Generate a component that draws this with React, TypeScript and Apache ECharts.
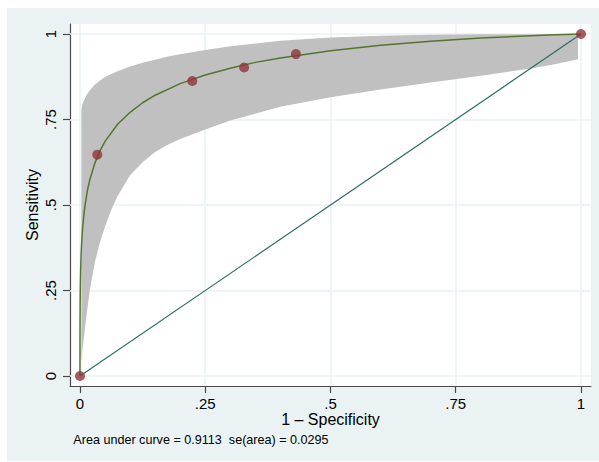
import React, { useEffect, useRef } from "react";
import * as echarts from "echarts";

// Tick values and labels (both axes)
const tickValues = [0, 0.25, 0.5, 0.75, 1];
const tickLabels = ["0", ".25", ".5", ".75", "1"];

// Empirical ROC points (1 - specificity, sensitivity)
const pointFpr = [0, 0.0345, 0.2241, 0.3276, 0.431, 1];
const pointTpr = [0, 0.6471, 0.8627, 0.902, 0.9412, 1];

// Fitted ROC curve
const curveFpr = [0, 0.00001, 0.0001, 0.0005, 0.001, 0.002, 0.003, 0.005, 0.0075, 0.01, 0.015, 0.02, 0.03, 0.04, 0.05, 0.075, 0.1, 0.125, 0.15, 0.2, 0.25, 0.3, 0.35, 0.4, 0.5, 0.6, 0.7, 0.8, 0.9, 0.95, 1];
const curveTpr = [0, 0.083, 0.16, 0.245, 0.292, 0.346, 0.381, 0.429, 0.469, 0.499, 0.544, 0.576, 0.624, 0.659, 0.686, 0.736, 0.771, 0.799, 0.821, 0.855, 0.88, 0.9, 0.917, 0.93, 0.951, 0.967, 0.979, 0.988, 0.995, 0.998, 1];

// Confidence band
const bandFpr = [0.0027, 0.0035, 0.005, 0.0075, 0.01, 0.015, 0.02, 0.03, 0.04, 0.05, 0.0625, 0.075, 0.1, 0.125, 0.15, 0.175, 0.2, 0.25, 0.3, 0.4, 0.5, 0.6, 0.7, 0.8, 0.9, 0.95, 0.994];
const bandUpper = [0.778, 0.784, 0.795, 0.804, 0.812, 0.826, 0.836, 0.852, 0.864, 0.874, 0.883, 0.891, 0.905, 0.916, 0.925, 0.934, 0.941, 0.953, 0.964, 0.98, 0.99, 0.995, 0.998, 0.999, 0.9995, 0.9997, 0.9998];
const bandLower = [0.04, 0.052, 0.075, 0.108, 0.14, 0.2, 0.255, 0.335, 0.392, 0.437, 0.486, 0.526, 0.587, 0.625, 0.655, 0.676, 0.693, 0.721, 0.747, 0.787, 0.815, 0.838, 0.858, 0.878, 0.899, 0.912, 0.926];

// Reference diagonal
const diagX = [0, 1];
const diagY = [0, 1];

const xTitle = "1 – Specificity";
const yTitle = "Sensitivity";
const note = "Area under curve = 0.9113  se(area) = 0.0295";

const FONT = "'Liberation Sans', Arial, Helvetica, sans-serif";

export default function App() {
  const ref = useRef<HTMLDivElement>(null);

  useEffect(() => {
    const chart = echarts.init(ref.current!, null, { renderer: "svg" });
    const fmt = (v: number) => {
      const i = tickValues.findIndex((t) => Math.abs(t - v) < 1e-9);
      return i >= 0 ? tickLabels[i] : "";
    };
    const axisColor = "#4a4a4a";
    const gridColor = "#eaf2f3";

    chart.setOption({
      animation: false,
      backgroundColor: "#eaf2f3",
      textStyle: { fontFamily: FONT },
      grid: {
        left: 63,
        right: 8,
        top: 16,
        bottom: 75,
        show: true,
        backgroundColor: "#ffffff",
        borderWidth: 0,
      },
      xAxis: {
        type: "value",
        min: -10 / 501,
        max: 1 + 10 / 501,
        axisLine: { show: true, onZero: false, lineStyle: { color: axisColor, width: 1.2 } },
        axisTick: { show: true, customValues: tickValues, length: 7, lineStyle: { color: axisColor, width: 1.2 } },
        axisLabel: {
          customValues: tickValues,
          formatter: fmt,
          fontSize: 15,
          color: "#000",
          margin: 17,
          verticalAlign: "middle",
          fontFamily: FONT,
        },
        splitLine: { show: false },
      },
      yAxis: {
        type: "value",
        min: -10 / 342,
        max: 1 + 10 / 342,
        axisLine: { show: true, onZero: false, lineStyle: { color: axisColor, width: 1.2 } },
        axisTick: { show: true, customValues: tickValues, length: 7, lineStyle: { color: axisColor, width: 1.2 } },
        axisLabel: {
          customValues: tickValues,
          formatter: fmt,
          fontSize: 15,
          color: "#000",
          rotate: 90,
          align: "center",
          verticalAlign: "middle",
          margin: 20,
          fontFamily: FONT,
        },
        splitLine: { show: false },
      },
      graphic: [
        {
          type: "text",
          x: 25,
          y: 197,
          rotation: Math.PI / 2,
          style: {
            text: yTitle,
            fontSize: 16,
            fontFamily: FONT,
            fill: "#000",
            textAlign: "center",
            textVerticalAlign: "middle",
          },
        },
        {
          type: "text",
          x: 323.5,
          y: 411.5,
          style: {
            text: xTitle,
            fontSize: 16,
            fontFamily: FONT,
            fill: "#000",
            textAlign: "center",
            textVerticalAlign: "middle",
          },
        },
        {
          type: "text",
          x: 66.3,
          y: 432,
          style: {
            text: note,
            fontSize: 12.6,
            fontFamily: FONT,
            fill: "#000",
            textAlign: "left",
            textVerticalAlign: "middle",
          },
        },
      ],
      series: [
        {
          name: "gridlines",
          type: "line",
          data: [[0, 0]],
          symbol: "none",
          lineStyle: { width: 0 },
          silent: true,
          z: 1,
          markLine: {
            silent: true,
            z: 1,
            symbol: ["none", "none"],
            label: { show: false },
            lineStyle: { color: gridColor, width: 1.5, type: "solid" },
            data: [
              ...tickValues.map((v) => ({ xAxis: v })),
              ...tickValues.map((v) => ({ yAxis: v })),
            ],
          },
        },
        {
          name: "band",
          type: "custom",
          coordinateSystem: "cartesian2d",
          data: [[0, 0]],
          z: 2,
          silent: true,
          renderItem: (params: any, api: any) => {
            const pts: number[][] = [];
            for (let i = 0; i < bandFpr.length; i++) pts.push(api.coord([bandFpr[i], bandUpper[i]]));
            for (let i = bandFpr.length - 1; i >= 0; i--) pts.push(api.coord([bandFpr[i], bandLower[i]]));
            return {
              type: "polygon",
              shape: { points: pts },
              style: { fill: "#c0c0c0", stroke: "none" },
            };
          },
        },
        {
          name: "diagonal",
          type: "line",
          data: diagX.map((x, i) => [x, diagY[i]]),
          symbol: "none",
          lineStyle: { color: "#2d6d66", width: 1.2 },
          z: 3,
          silent: true,
        },
        {
          name: "fit",
          type: "line",
          data: curveFpr.map((x, i) => [x, curveTpr[i]]),
          symbol: "none",
          lineStyle: { color: "#55752f", width: 1.5 },
          z: 4,
          silent: true,
        },
        {
          name: "points",
          type: "scatter",
          data: pointFpr.map((x, i) => [x, pointTpr[i]]),
          symbol: "circle",
          symbolSize: 10,
          itemStyle: { color: "#90353b" },
          z: 5,
          silent: true,
        },
      ],
    });
    return () => chart.dispose();
  }, []);

  return (
    <div style={{ position: "fixed", left: 0, top: 0, width: 599, height: 462, background: "#ffffff" }}>
      <div
        ref={ref}
        style={{ position: "absolute", left: 7, top: 8, width: 592, height: 453, background: "#eaf2f3" }}
      />
    </div>
  );
}
